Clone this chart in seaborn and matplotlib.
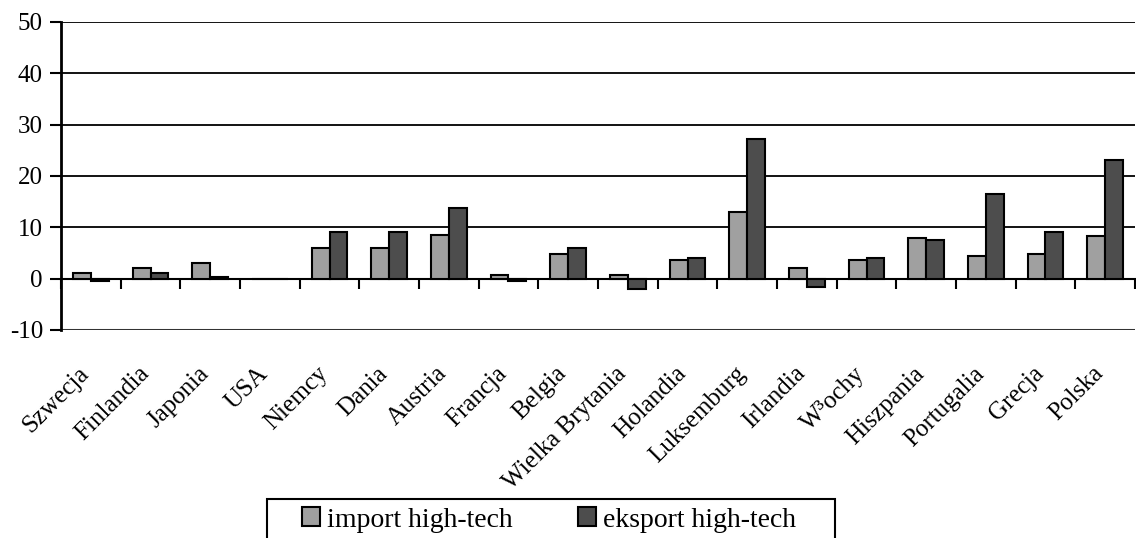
import numpy as np
import pandas as pd
import matplotlib
matplotlib.use("Agg")
import matplotlib.pyplot as plt
import matplotlib.transforms as mtransforms
from matplotlib.patches import Rectangle
import seaborn as sns

countries = ["Szwecja", "Finlandia", "Japonia", "USA", "Niemcy", "Dania", "Austria",
             "Francja", "Belgia", "Wielka Brytania", "Holandia", "Luksemburg", "Irlandia",
             "W³ochy", "Hiszpania", "Portugalia", "Grecja", "Polska"]
import_vals = [1.2, 2.1, 3.1, 0.0, 5.9, 5.9, 8.6, 0.8, 4.8, 0.8, 3.6, 13.0, 2.0,
               3.6, 7.9, 4.4, 4.8, 8.3]
export_vals = [-0.5, 1.2, 0.4, 0.0, 9.0, 9.0, 13.7, -0.5, 6.0, -2.1, 4.0, 27.2, -1.7,
               4.0, 7.5, 16.5, 9.0, 23.1]
series_names = ["import high-tech", "eksport high-tech"]
y_ticks = [-10, 0, 10, 20, 30, 40, 50]

df = pd.DataFrame({
    "kraj": countries * 2,
    "seria": [series_names[0]] * len(countries) + [series_names[1]] * len(countries),
    "wartosc": import_vals + export_vals,
})

sns.set_style("white")
plt.rcParams["font.family"] = ["Liberation Serif", "DejaVu Serif"]
plt.rcParams["text.color"] = "black"
plt.rcParams["xtick.color"] = "black"
plt.rcParams["ytick.color"] = "black"
plt.rcParams["xtick.labelcolor"] = "black"
plt.rcParams["ytick.labelcolor"] = "black"

W, H = 1136, 538
fig = plt.figure(figsize=(W / 100, H / 100), dpi=100)
ax = fig.add_axes([61 / W, 1 - 330 / H, (1135 - 61) / W, (330 - 22) / H])

sns.barplot(data=df, x="kraj", y="wartosc", hue="seria", order=countries,
            hue_order=series_names, palette=["#a0a0a0", "#4d4d4d"],
            edgecolor="black", linewidth=1.5, width=0.6, ax=ax, zorder=3)

n = len(countries)
ax.set_xlim(-0.5, n - 0.5)
ax.set_ylim(-10, 50)
ax.set_yticks(y_ticks)
ax.set_yticklabels([str(v) for v in y_ticks], fontsize=18, color="black")
ax.set_xlabel("")
ax.set_ylabel("")

for v in y_ticks:
    if v in (0, -10):
        continue
    ax.axhline(v, color="black", lw=1.3, zorder=1)
ax.axhline(-10, color="#333333", lw=2.2, zorder=1)

for side in ["top", "right", "bottom"]:
    ax.spines[side].set_visible(False)
ax.spines["left"].set_linewidth(2)
ax.spines["left"].set_color("black")
ax.tick_params(axis="y", which="both", left=True, length=8, width=1.5, color="black",
               direction="out", pad=5)

# category labels
ax.set_xticks(np.arange(n))
ax.set_xticklabels(countries, fontsize=18, rotation=45, ha="right",
                   rotation_mode="anchor", va="center", color="black")
ax.tick_params(axis="x", length=0, pad=29)
offset = mtransforms.ScaledTranslation(-5 / 100, 0, fig.dpi_scale_trans)
for lab in ax.get_xticklabels():
    lab.set_transform(lab.get_transform() + offset)

# zero axis with boundary ticks
sec = ax.secondary_xaxis(10 / 60)
sec.set_xticks(np.arange(n + 1) - 0.5)
sec.set_xticklabels([])
sec.tick_params(axis="x", length=7, width=1.5, color="black", direction="out")
sec.spines["bottom"].set_linewidth(1.5)
sec.spines["bottom"].set_color("black")

handles, labels = ax.get_legend_handles_labels()
ax.get_legend().remove()
leg = fig.legend(handles, labels, loc="center left", ncol=2,
                 bbox_to_anchor=(302 / W, 1 - 520 / H),
                 fontsize=20, frameon=False, borderpad=0, borderaxespad=0,
                 handlelength=0.65, handleheight=0.65,
                 handletextpad=0.25, columnspacing=2.35, labelcolor="black")
fig.add_artist(Rectangle((267 / W, -0.05), 568 / W, (538 - 499) / H + 0.05,
                         transform=fig.transFigure, fill=False,
                         edgecolor="black", linewidth=1.5))

fig.savefig("out.png", dpi=100)
